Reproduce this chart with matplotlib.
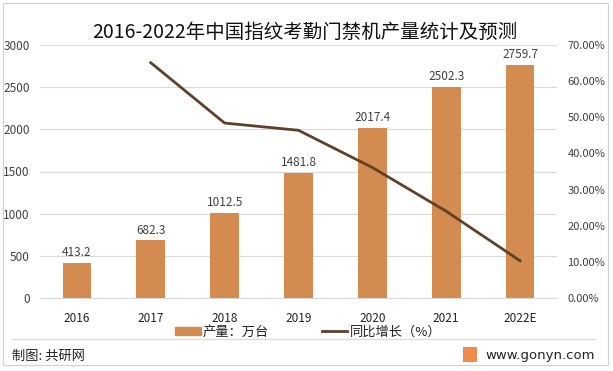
import matplotlib
matplotlib.use("Agg")
import matplotlib.pyplot as plt
from matplotlib.patches import Rectangle
from matplotlib.lines import Line2D

plt.rcParams['font.family'] = ['Noto Sans CJK SC', 'DejaVu Sans']

years = ["2016", "2017", "2018", "2019", "2020", "2021", "2022E"]
production = [413.2, 682.3, 1012.5, 1481.8, 2017.4, 2502.3, 2759.7]
growth_years = ["2017", "2018", "2019", "2020", "2021", "2022E"]
growth = [65.1, 48.4, 46.4, 36.1, 24.0, 10.3]
left_ticks = [0, 500, 1000, 1500, 2000, 2500, 3000]
right_ticks = [0, 10, 20, 30, 40, 50, 60, 70]

BAR = "#D38B4F"
LINE = "#5E4128"
TXT = "#404040"

W, H = 613, 371
fig = plt.figure(figsize=(W/100, H/100), dpi=100)
fig.patch.set_facecolor("white")

ax = fig.add_axes([40/W, 1-298/H, 517/W, (298-45)/H])
x = list(range(len(years)))
ax.bar(x, production, width=0.39, color=BAR, zorder=3)
for xi, v in zip(x, production):
    ax.text(xi, v + 45, f"{v:.1f}", ha="center", va="bottom", fontsize=8.5, color=TXT, zorder=5)
ax.set_xlim(-0.5, len(years)-0.5)
ax.set_ylim(0, 3000)
ax.set_yticks(left_ticks)
ax.set_yticklabels([str(t) for t in left_ticks], fontsize=8.5, color=TXT)
ax.set_xticks(x)
ax.set_xticklabels(years, fontsize=8.5, color="#222222")
ax.tick_params(axis="both", length=0)
ax.tick_params(axis="y", pad=7.5)
ax.tick_params(axis="x", pad=10)
ax.grid(axis="y", color="#D9D9D9", linewidth=0.8, zorder=0)
for s in ax.spines.values():
    s.set_visible(False)
ax.spines["bottom"].set_visible(True)
ax.spines["bottom"].set_color("#D9D9D9")

ax2 = ax.twinx()
gx = [years.index(y) for y in growth_years]
ax2.plot(gx, growth, color=LINE, linewidth=2.0, zorder=4)
ax2.set_ylim(0, 70)
ax2.set_yticks(right_ticks)
ax2.set_yticklabels([f"{t:.2f}%" for t in right_ticks], fontsize=8, color=TXT)
ax2.tick_params(axis="y", length=0, pad=7.5)
for s in ax2.spines.values():
    s.set_visible(False)

fig.text(305/W, 1-32/H, "2016-2022年中国指纹考勤门禁机产量统计及预测", ha="center", va="center",
         fontsize=14, color="#111111")

# legend
handles = [Rectangle((0, 0), 1, 1, color=BAR), Line2D([0], [0], color=LINE, linewidth=2.0)]
fig.legend(handles, ["产量：万台", "同比增长（%）"], loc="center", bbox_to_anchor=(308/W, 1-332/H),
           ncol=2, frameon=False, fontsize=9.5, handlelength=1.95, handleheight=0.55,
           columnspacing=4.0, handletextpad=0.15, labelcolor="#222222",
           borderpad=0, borderaxespad=0)

# frame and footer
fig.add_artist(Rectangle((3/W, 6/H), 605/W, 362/H, transform=fig.transFigure, fill=False,
                         edgecolor="#D0D0D0", linewidth=0.8))
fig.add_artist(Line2D([12/W, 595/W], [1-339/H, 1-339/H], transform=fig.transFigure,
                      color="#D9D9D9", linewidth=0.8))
fig.text(12/W, 1-356/H, "制图: 共研网", ha="left", va="center", fontsize=9.5, color="#222222")
fig.add_artist(Rectangle((463/W, 1-362/H), 14/W, 15/H, transform=fig.transFigure,
                         color="#F08A4B", linewidth=0))
fig.text(485/W, 1-355/H, "www.gonyn.com", ha="left", va="center", fontsize=9.5,
         family=["DejaVu Sans"], color="#222222")

fig.savefig("out.png", dpi=100)
